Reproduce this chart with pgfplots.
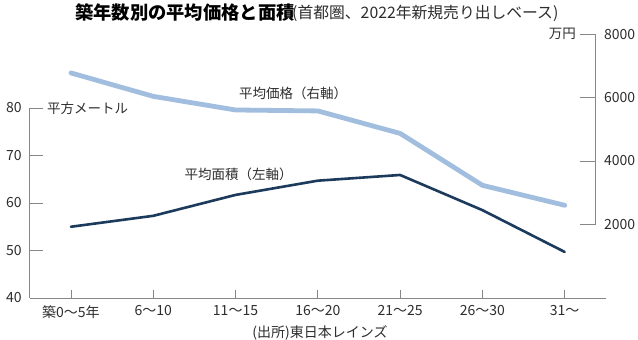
\documentclass[border=0pt]{standalone}
\usepackage{fontspec}
\setmainfont{Noto Sans CJK JP}
\usepackage{pgfplots}
\pgfplotsset{compat=1.18}
\definecolor{navy}{RGB}{27,58,92}
\definecolor{lightb}{RGB}{162,190,222}
\definecolor{axgray}{RGB}{135,135,135}
\definecolor{txt}{RGB}{45,45,45}
\begin{document}
\begin{tikzpicture}[x=1pt,y=1pt]
\useasboundingbox (0,0) rectangle (638,340);
\pgfplotsset{common/.style={scale only axis, width=576pt, height=190pt,
  xmin=-0.5, xmax=6.5, at={(29.8pt,42pt)}, anchor=south west,
  axis line style={-,draw=axgray, line width=0.8pt},
  tick style={draw=axgray, line width=0.8pt}, tick align=inside,
  /pgf/number format/assume math mode=true,
  /pgf/number format/set thousands separator={},
  scaled y ticks=false,
  ticklabel style={font=\fontsize{14}{14}\selectfont, text=txt, inner sep=0pt},
  clip=false}}
% x axis
\begin{axis}[common, ymin=0, ymax=1, axis x line*=bottom, axis y line=none,
  major tick length=8pt, xtick={0,...,6},
  xticklabels={築0～5年,6～10,11～15,16～20,21～25,26～30,31～},
  xticklabel style={anchor=north, yshift=-7pt}]
\end{axis}
% left axis: area
\begin{axis}[common, ymin=40, ymax=80, axis y line*=left, axis x line=none,
  major tick length=13pt, ytick={40,50,60,70,80},
  yticklabel style={anchor=east, xshift=-8pt}]
\addplot[navy, line width=2.6pt, line join=round, line cap=round] coordinates {
(0,55.0) (1,57.3) (2,61.7) (3,64.7) (4,65.9) (5,58.5) (6,49.7)};
\end{axis}
% right axis: price
\begin{axis}[common, width=566pt, xmax=6.377, at={(29.8pt,115.7pt)},
  ymin=2000, ymax=8000, axis y line*=right, axis x line=none,
  major tick length=16pt, ytick={2000,4000,6000,8000},
  yticklabel style={anchor=west, xshift=8pt}]
\addplot[lightb, line width=4.8pt, line join=round, line cap=round] coordinates {
(0,6780) (1,6040) (2,5610) (3,5580) (4,4870) (5,3230) (6,2600)};
\end{axis}
\node[anchor=west, inner sep=0pt, font=\fontsize{18.3}{18.3}\selectfont\bfseries] at (75,327) {築年数別の平均価格と面積};
\node[anchor=west, inner sep=0pt, font=\fontsize{15.8}{15.8}\selectfont, text=txt] at (292,327) {(首都圏、2022年新規売り出しベース)};
\node[anchor=west, inner sep=0pt, font=\fontsize{13.5}{13.5}\selectfont, text=txt] at (47,232) {平方メートル};
\node[anchor=east, inner sep=0pt, font=\fontsize{13.5}{13.5}\selectfont, text=txt] at (576,306) {万円};
\node[inner sep=0pt, font=\fontsize{13.5}{13.5}\selectfont, text=txt] at (293,247) {平均価格（右軸）};
\node[inner sep=0pt, font=\fontsize{13.5}{13.5}\selectfont, text=txt] at (238.5,166) {平均面積（左軸）};
\node[inner sep=0pt, font=\fontsize{14}{14}\selectfont, text=txt] at (320,7) {(出所)東日本レインズ};
\end{tikzpicture}
\end{document}
